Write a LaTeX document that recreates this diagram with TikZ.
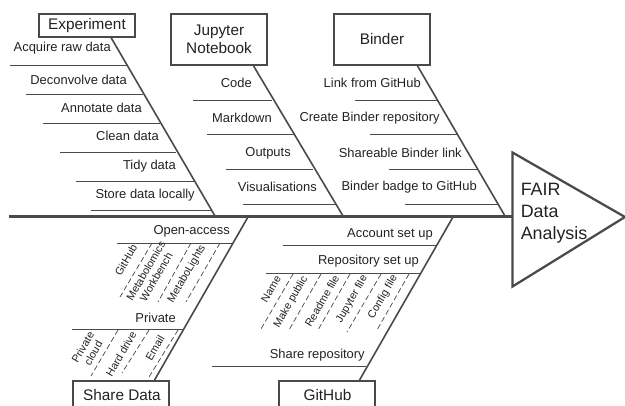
\documentclass[tikz,border=0pt]{standalone}
\usepackage{fontspec}
\setmainfont{Liberation Sans}
\definecolor{ink}{HTML}{4A4A4A}
\definecolor{txt}{HTML}{222222}
\tikzset{
  cat/.style={draw=ink,line width=1.5pt,fill=white,inner sep=0pt,align=center,text=txt,font=\fontsize{11.5}{13.2}\selectfont},
  head/.style={draw=ink,line width=1.7pt,line join=miter},
  spine/.style={draw=ink,line width=1.7pt},
  bone/.style={draw=ink,line width=1.2pt},
  rib/.style={draw=ink,line width=0.7pt},
  sub/.style={draw=ink,line width=0.55pt,dash pattern=on 4pt off 2.2pt},
  lab/.style={anchor=east,inner sep=0pt,text=txt,font=\fontsize{9.7}{11}\selectfont},
  tiny/.style={rotate=60,inner sep=0pt,align=center,text=txt,font=\fontsize{8.1}{9}\selectfont}
}
\newcommand{\rib}[5]{% name, x1, x2, y, text-free
  \coordinate (#1a) at (#2,#4); \coordinate (#1b) at (#3,#4);
  \draw[rib] (#1a) -- (#1b);}
\newcommand{\subrib}[5]{%
  \coordinate (#1a) at (#2,#3); \coordinate (#1b) at (#4,#5);
  \draw[sub] (#1a) -- (#1b);}
\begin{document}
\begin{tikzpicture}[x=0.75pt,y=-0.75pt]
\useasboundingbox (0,0) rectangle (625,406);
\clip (0,0) rectangle (625,406);
% spine and head
\coordinate (tail) at (9,216.5);
\coordinate (h1) at (512.5,152.5);
\coordinate (h2) at (625,217);
\coordinate (h3) at (512.5,286.5);
\draw[head] (h1) -- (h2) -- (h3) -- cycle;
\coordinate (sp) at (512.5,216.5);
\draw[spine] (tail) -- (sp);
\node[anchor=west,inner sep=0pt,align=left,text=txt,font=\fontsize{13.4}{16.3}\selectfont] (fair) at (520.5,213) {FAIR\\Data\\Analysis};
% category boxes
\node[cat,minimum width=96pt*0.75,minimum height=23pt*0.75] (exp) at (87,25.5) {Experiment};
\node[cat,minimum width=96pt*0.75,minimum height=51pt*0.75] (jup) at (219,39.5) {Jupyter\\Notebook};
\node[cat,minimum width=96pt*0.75,minimum height=51pt*0.75] (bin) at (382,39.5) {Binder};
\node[cat,minimum width=96pt*0.75,minimum height=50pt*0.75] (sha) at (121,406) {};
\node[anchor=center,inner sep=0pt,text=txt,font=\fontsize{11.5}{13.2}\selectfont] (shat) at (122,395) {Share Data};
\node[cat,minimum width=96pt*0.75,minimum height=50pt*0.75] (git) at (327,406) {};
\node[anchor=center,inner sep=0pt,text=txt,font=\fontsize{11.5}{13.2}\selectfont] (gitt) at (327.5,395) {GitHub};
% bones
\coordinate (e0) at (111,37.5); \coordinate (e1) at (215,216);
\coordinate (j0) at (253,65);   \coordinate (j1) at (343,216);
\coordinate (b0) at (417,65);   \coordinate (b1) at (505,216);
\coordinate (s0) at (248,217);  \coordinate (s1) at (154,381);
\coordinate (g0) at (453,217);  \coordinate (g1) at (359,381);
\draw[bone] (e0) -- (e1);
\draw[bone] (j0) -- (j1);
\draw[bone] (b0) -- (b1);
\draw[bone] (s0) -- (s1);
\draw[bone] (g0) -- (g1);
% experiment ribs
\rib{ea}{10}{127}{65}{}
\rib{eb}{26}{143}{94}{}
\rib{ec}{43}{160}{123}{}
\rib{ed}{60}{176}{152}{}
\rib{ee}{76}{194}{181}{}
\rib{ef}{91}{212}{210}{}
\node[lab] (lea) at (111,48) {Acquire raw data};
\node[lab] (leb) at (127,80) {Deconvolve data};
\node[lab] (lec) at (142,108) {Annotate data};
\node[lab] (led) at (159,136) {Clean data};
\node[lab] (lee) at (176,166) {Tidy data};
\node[lab] (lef) at (195,195) {Store data locally};
% jupyter ribs
\rib{ja}{193}{272}{100}{}
\rib{jb}{207}{294}{134}{}
\rib{jc}{226}{313}{169}{}
\rib{jd}{243}{336}{204}{}
\node[lab] (lja) at (252,82.5) {Code};
\node[lab] (ljb) at (272,118) {Markdown};
\node[lab] (ljc) at (291,153) {Outputs};
\node[lab] (ljd) at (317,187) {Visualisations};
% binder ribs
\rib{ba}{355}{437}{100}{}
\rib{bb}{370}{457}{134}{}
\rib{bc}{389}{477}{169}{}
\rib{bd}{405}{498}{204.5}{}
\node[lab] (lba) at (421,82.5) {Link from GitHub};
\node[lab] (lbb) at (440,118) {Create Binder repository};
\node[lab] (lbc) at (462,153) {Shareable Binder link};
\node[lab] (lbd) at (477,187) {Binder badge to GitHub};
% share data
\rib{sa}{117}{233}{243}{}
\rib{sb}{72}{183}{329.5}{}
\node[lab] (lsa) at (230,231) {Open-access};
\node[lab] (lsb) at (176,317.5) {Private};
\subrib{da}{152}{243}{120}{297}
\subrib{db}{191}{243}{158}{302}
\subrib{dc}{220}{243}{186}{302}
\subrib{dd}{118}{330}{91}{376}
\subrib{de}{149}{330}{122}{373}
\subrib{df}{178}{330}{149}{377}
\node[tiny] (t1) at (126,260) {GitHub};
\node[tiny] (t2) at (151,274) {Metabolomics\\Workbench};
\node[tiny] (t3) at (187,274) {MetaboLights};
\node[tiny] (t4) at (88,350) {Private\\cloud};
\node[tiny] (t5) at (121,354) {Hard drive};
\node[tiny] (t6) at (155,348) {Email};
% github
\rib{ga}{283}{437}{245}{}
\rib{gb}{266}{421}{273}{}
\rib{gc}{212}{366}{366}{}
\node[lab] (lga) at (433,234) {Account set up};
\node[lab] (lgb) at (419,261) {Repository set up};
\node[lab] (lgc) at (365,355) {Share repository};
\subrib{ha}{293}{274}{261}{329}
\subrib{hb}{321}{274}{289}{330}
\subrib{hc}{350}{274}{318}{330}
\subrib{hd}{381}{274}{347}{332}
\subrib{he}{409}{274}{377}{330}
\node[tiny] (u1) at (271,289) {Name};
\node[tiny] (u2) at (291,302) {Make public};
\node[tiny] (u3) at (322,301) {Readme file};
\node[tiny] (u4) at (352,299) {Jupyter file};
\node[tiny] (u5) at (383,297) {Config file};
\end{tikzpicture}
\end{document}
